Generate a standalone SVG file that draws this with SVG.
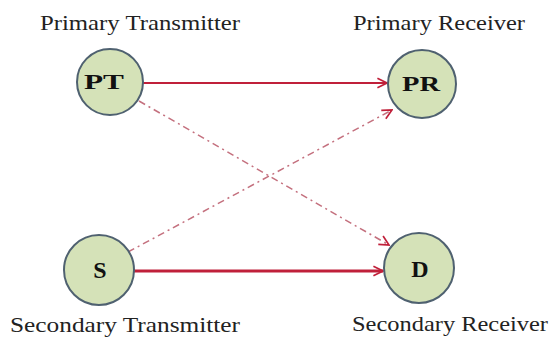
<svg xmlns="http://www.w3.org/2000/svg" width="551" height="352" viewBox="0 0 551 352">
  <defs>
    <marker id="arrowThin" viewBox="0 0 10 10" refX="9" refY="5" markerWidth="12" markerHeight="12" markerUnits="userSpaceOnUse" orient="auto">
      <path d="M1,1 L9,5 L1,9" fill="none" stroke="#c0203a" stroke-width="1.4"/>
    </marker>
  </defs>
  <style>
    .node circle { fill: #d5e2b8; stroke: #4f6170; stroke-width: 2; }
    .node text { font-family: "Liberation Serif", serif; font-weight: bold; font-size: 22px; fill: #111; text-anchor: middle; }
    .node text.big { font-size: 24px; }
    .label { font-family: "Liberation Serif", serif; font-size: 22px; fill: #222; }
    .solid { stroke: #c0203a; fill: none; }
    .dash { stroke: #c4707e; stroke-width: 1.5; fill: none; stroke-dasharray: 7 4 2 4; }
  </style>
  <rect width="551" height="352" fill="#ffffff"/>

  <g id="connectors">
    <line class="solid" x1="143" y1="83" x2="387" y2="83" stroke-width="2" marker-end="url(#arrowThin)"/>
    <line class="solid" x1="134" y1="271" x2="383" y2="271" stroke-width="3" marker-end="url(#arrowThin)"/>
    <line class="dash" x1="139" y1="101" x2="389" y2="245" marker-end="url(#arrowThin)"/>
    <line class="dash" x1="128" y1="252" x2="392" y2="110" marker-end="url(#arrowThin)"/>
  </g>

  <g id="node-pt" class="node">
    <circle cx="110" cy="82" r="33"/>
    <text x="104" y="89" textLength="40" lengthAdjust="spacingAndGlyphs">PT</text>
  </g>
  <g id="node-pr" class="node">
    <circle cx="422" cy="84" r="34"/>
    <text x="421" y="91" textLength="38" lengthAdjust="spacingAndGlyphs">PR</text>
  </g>
  <g id="node-s" class="node">
    <circle cx="99" cy="270" r="35"/>
    <text class="big" x="100" y="278">S</text>
  </g>
  <g id="node-d" class="node">
    <circle cx="419" cy="268" r="35"/>
    <text class="big" x="420" y="277">D</text>
  </g>

  <g id="labels">
    <text class="label" x="40" y="30" textLength="200" lengthAdjust="spacingAndGlyphs">Primary Transmitter</text>
    <text class="label" x="353" y="30" textLength="172" lengthAdjust="spacingAndGlyphs">Primary Receiver</text>
    <text class="label" x="10" y="332" textLength="230" lengthAdjust="spacingAndGlyphs">Secondary Transmitter</text>
    <text class="label" x="352" y="331" textLength="196" lengthAdjust="spacingAndGlyphs">Secondary Receiver</text>
  </g>
</svg>
